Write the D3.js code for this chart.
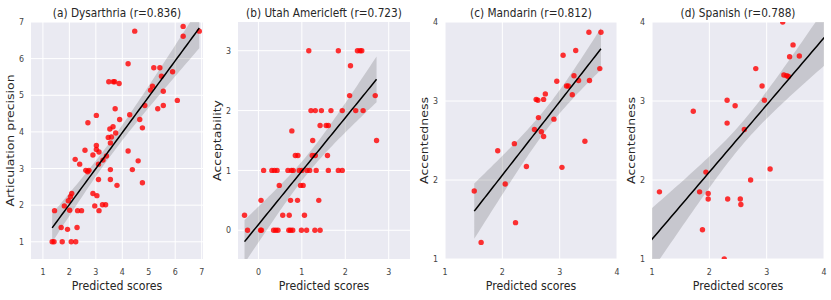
<!doctype html>
<html>
<head>
  <meta charset='utf-8'>
  <style>
    body { margin: 0; background: #fff; }
    svg text { font-family: 'DejaVu Sans', sans-serif; fill: #262626; }
    .tick text { font-size: 9px; fill: #444; }
    .title { font-size: 12px; }
    .xlab, .ylab { font-size: 12.5px; }
  </style>
</head>
<body>
  <svg width='831' height='300'></svg>
  <script src='https://d3js.org/d3.v7.min.js'></script>
  <script>
    // values: predicted score vs. listener rating

    var titles = ['(a) Dysarthria (r=0.836)', '(b) Utah Americleft (r=0.723)',
                  '(c) Mandarin (r=0.812)', '(d) Spanish (r=0.788)'];
    var yLabels = ['Articulation precision', 'Acceptability',
                   'Accentedness', 'Accentedness'];

    var dysarthriaPred = [6.30, 6.30, 6.91, 4.47, 4.22, 5.19, 5.42, 5.48, 5.90, 5.14,
                          5.07, 5.55, 6.08, 5.55, 5.34, 4.85, 4.66, 4.76, 4.28, 3.49,
                          3.66, 3.71, 3.88, 3.73, 3.90, 2.70, 3.02, 3.53, 3.65, 3.75,
                          3.59, 3.47, 3.55, 3.02, 3.02, 3.12, 2.89, 3.40, 2.59, 2.22,
                          2.39, 3.10, 3.27, 4.22, 4.60, 4.38, 4.76, 3.55, 3.55, 3.80,
                          3.10, 2.62, 2.69, 2.74, 2.89, 3.04, 2.96, 3.25, 3.37, 3.12,
                          2.09, 2.04, 1.96, 2.01, 1.81, 1.44, 2.31, 2.46, 1.69, 1.93,
                          2.29, 1.35, 1.42, 1.73, 2.07, 2.24];
    var dysarthriaTrue = [6.88, 6.61, 6.75, 6.75, 5.86, 5.75, 5.75, 5.52, 5.64, 5.25,
                          5.14, 5.11, 4.86, 4.72, 4.63, 4.72, 4.34, 4.11, 4.47, 5.37,
                          5.37, 5.37, 5.32, 4.63, 4.34, 4.25, 4.45, 4.08, 4.14, 3.97,
                          3.86, 3.85, 3.70, 3.63, 3.52, 3.45, 3.37, 3.34, 3.50, 3.25,
                          3.12, 3.12, 3.23, 3.48, 3.21, 2.97, 2.61, 2.97, 2.70, 2.54,
                          2.70, 2.95, 2.91, 2.95, 2.32, 2.26, 1.98, 2.01, 2.01, 1.85,
                          2.32, 2.23, 2.12, 1.86, 1.98, 1.85, 1.85, 1.85, 1.39, 1.34,
                          1.39, 1.00, 1.00, 1.00, 1.00, 1.00];

    var utahPred = [-0.32, -0.25, 0.05, 0.07, 0.06, 0.12, 0.31, 0.37, 0.43, 0.35,
                    0.40, 0.45, 0.48, 0.56, 0.70, 0.74, 0.79, 0.71, 0.74, 0.68,
                    0.76, 0.80, 0.77, 0.85, 0.91, 0.90, 0.94, 1.00, 0.97, 1.03,
                    0.99, 1.06, 1.11, 1.12, 1.18, 1.16, 1.21, 1.25, 1.24, 1.31,
                    1.33, 1.30, 1.42, 1.39, 1.31, 1.45, 1.42, 1.56, 1.61, 1.59,
                    1.61, 1.67, 1.84, 1.84, 1.93, 1.93, 2.10, 2.12, 2.24, 2.28,
                    2.34, 2.38, 2.41, 2.69, 2.72];
    var utahTrue = [0.25, 0, 0, 0, 0.5, 1, 1, 1, 1, 0,
                    0, 0, 0.75, 0.25, 0, 0, 0, 0.25, 0.5, 1,
                    1, 1, 1.66, 1.25, 1.25, 0.5, 1, 1, 0.75, 0.75,
                    0, 0.25, 0, 1, 1, 3, 2, 1.5, 1.25, 1.25,
                    1, 0, 0, 0.5, 2, 2, 1.75, 1.75, 1.75, 1.25,
                    1, 2, 3, 1, 1, 2, 2.25, 2.75, 2, 3,
                    3, 3, 2, 2.25, 1.5];

    var mandarinPred = [1.51, 1.63, 1.92, 2.05, 2.21, 2.23, 2.42, 2.56, 2.59, 2.62,
                        2.63, 2.68, 2.72, 2.72, 2.75, 2.90, 2.95, 3.04, 3.06, 3.12,
                        3.15, 3.22, 3.25, 3.28, 3.33, 3.44, 3.51, 3.52, 3.70, 3.72];
    var mandarinTrue = [1.86, 1.21, 2.37, 1.95, 2.46, 1.46, 2.17, 2.64, 3.02, 3.01,
                        2.79, 2.61, 2.55, 3.02, 3.09, 2.77, 3.25, 2.16, 3.58, 3.19,
                        3.19, 3.08, 3.32, 3.64, 3.26, 2.49, 3.87, 3.26, 3.41, 3.87];

    var spanishPred = [1.13, 1.72, 1.83, 1.88, 1.94, 1.98, 1.98, 2.26, 2.31, 2.31,
                       2.32, 2.45, 2.54, 2.55, 2.61, 2.72, 2.81, 2.92, 2.96, 3.06,
                       3.28, 3.30, 3.35, 3.38, 3.40, 3.46, 3.57];
    var spanishTrue = [1.85, 2.87, 1.85, 1.37, 2.10, 1.83, 1.76, 1.00, 3.01, 2.72,
                       1.76, 2.94, 1.76, 1.69, 2.64, 2.00, 3.41, 3.19, 3.01, 2.14,
                       4.00, 3.33, 3.32, 3.31, 3.56, 3.71, 3.57];
    // (d) also has points beyond the axes, so its fit is read off the figure:
    // [intercept, slope] and a narrowing factor for the band
    var spanishFitLine = [0.40, 0.85];
    var spanishBandScale = 0.65;

    var xDomains = [[0.55, 7.05], [-0.47, 3.49], [1, 4], [1, 4]];
    var yDomains = [[0.53, 7.0], [-0.48, 3.48], [1, 4], [1, 4]];
    var xTicks = [[1, 2, 3, 4, 5, 6, 7], [0, 1, 2, 3], [1, 2, 3, 4], [1, 2, 3, 4]];
    var yTicks = [[1, 2, 3, 4, 5, 6, 7], [0, 1, 2, 3], [1, 2, 3, 4], [1, 2, 3, 4]];
    // x span of the fitted line in each panel
    var fitRanges = [[1.35, 6.91], [-0.32, 2.72], [1.51, 3.72], [0.9, 4.1]];

    var preds = [dysarthriaPred, utahPred, mandarinPred, spanishPred];
    var trues = [dysarthriaTrue, utahTrue, mandarinTrue, spanishTrue];
    var fitLines = [null, null, null, spanishFitLine];
    var bandScales = [1, 1, 1, spanishBandScale];

    // layout
    var lefts = [31, 238, 445, 652];
    var plotTop = 22, pw = 172, ph = 237;
    var squash = 0.88;   // the figure's text is narrowed horizontally

    var svg = d3.select('svg');

    function linfit(xs, ys, line) {
      var n = xs.length;
      var mx = d3.mean(xs), my = d3.mean(ys);
      var sxx = d3.sum(xs, function(x) { return (x - mx) * (x - mx); });
      var sxy = d3.sum(xs, function(x, i) { return (x - mx) * (ys[i] - my); });
      var b = sxy / sxx, a = my - b * mx;
      var s2 = d3.sum(xs, function(x, i) {
        var r = ys[i] - a - b * x; return r * r;
      }) / (n - 2);
      if (line) { a = line[0]; b = line[1]; }
      return {
        y: function(x) { return a + b * x; },
        se: function(x) { return Math.sqrt(s2 * (1 / n + (x - mx) * (x - mx) / sxx)); }
      };
    }

    function stext(g, x, y, str, cls, anchor, rot) {
      return g.append('g')
              .attr('transform', 'translate(' + x + ',' + y + ') scale(' + squash + ',1)' +
                    (rot ? ' rotate(' + rot + ')' : ''))
              .append('text')
              .attr('class', cls)
              .attr('text-anchor', anchor)
              .text(str);
    }

    titles.forEach(function(title, k) {
      var g = svg.append('g').attr('transform', 'translate(' + lefts[k] + ',' + plotTop + ')');
      var x = d3.scaleLinear().domain(xDomains[k]).range([0, pw]);
      var y = d3.scaleLinear().domain(yDomains[k]).range([ph, 0]);

      g.append('rect')
       .attr('width', pw).attr('height', ph)
       .attr('fill', '#eaeaf2');

      g.append('clipPath').attr('id', 'clip' + k)
       .append('rect').attr('width', pw).attr('height', ph);

      // grid
      g.selectAll('.gx').data(xTicks[k]).enter().append('line')
       .attr('x1', x).attr('x2', x).attr('y1', 0).attr('y2', ph)
       .attr('stroke', '#fff').attr('stroke-width', 1);
      g.selectAll('.gy').data(yTicks[k]).enter().append('line')
       .attr('y1', y).attr('y2', y).attr('x1', 0).attr('x2', pw)
       .attr('stroke', '#fff').attr('stroke-width', 1);

      // tick labels
      var xa = g.append('g').attr('class', 'tick');
      xTicks[k].forEach(function(v) { stext(xa, x(v), ph + 16, v, '', 'middle'); });
      var ya = g.append('g').attr('class', 'tick');
      yTicks[k].forEach(function(v) { stext(ya, -7, y(v) + 3.2, v, '', 'end'); });

      var plot = g.append('g').attr('clip-path', 'url(#clip' + k + ')');

      // regression line with 95% band
      var f = linfit(preds[k], trues[k], fitLines[k]);
      var z = 1.96 * bandScales[k];
      var r = fitRanges[k];
      var xs = d3.range(0, 61).map(function(i) { return r[0] + (r[1] - r[0]) * i / 60; });

      plot.append('path')
          .datum(xs)
          .attr('fill', '#000').attr('fill-opacity', 0.15)
          .attr('d', d3.area()
                       .x(function(d) { return x(d); })
                       .y0(function(d) { return y(f.y(d) - z * f.se(d)); })
                       .y1(function(d) { return y(f.y(d) + z * f.se(d)); }));

      var pts = preds[k].map(function(p, i) { return [p, trues[k][i]]; });
      plot.selectAll('circle').data(pts).enter().append('circle')
          .attr('cx', function(d) { return x(d[0]); })
          .attr('cy', function(d) { return y(d[1]); })
          .attr('r', 2.7)
          .attr('fill', 'red').attr('fill-opacity', 0.8);

      plot.append('path')
          .datum(xs)
          .attr('fill', 'none').attr('stroke', '#000').attr('stroke-width', 1.5)
          .attr('d', d3.line()
                       .x(function(d) { return x(d); })
                       .y(function(d) { return y(f.y(d)); }));

      stext(g, pw / 2, -5, title, 'title', 'middle');
      stext(g, pw / 2, ph + 31, 'Predicted scores', 'xlab', 'middle');
      stext(g, -17, ph / 2, yLabels[k], 'ylab', 'middle', -90);
    });
  </script>
</body>
</html>
